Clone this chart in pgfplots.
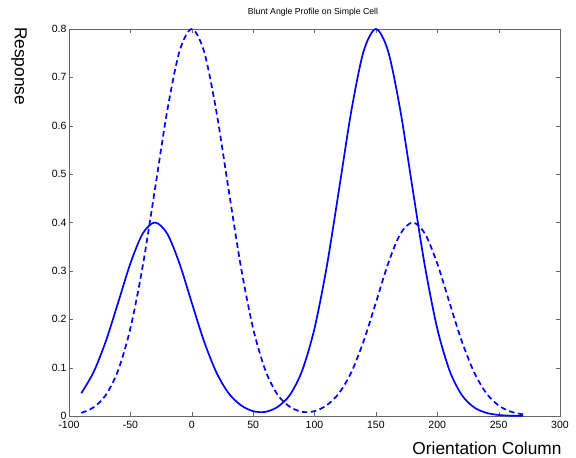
\documentclass[border=0pt]{standalone}
\usepackage{fontspec}
\setmainfont{Liberation Sans}
\usepackage{pgfplots}
\pgfplotsset{compat=1.18}
\begin{document}
\begin{tikzpicture}[x=1pt,y=1pt]
\path[use as bounding box] (0,0) rectangle (576,458);
\begin{axis}[
  at={(69pt,42pt)}, anchor=south west,
  scale only axis, width=491pt, height=387pt,
  xmin=-100, xmax=300, ymin=0, ymax=0.8,
  xtick={-100,-50,...,300},
  ytick={0,0.1,...,0.8},
  yticklabels={0,0.1,0.2,0.3,0.4,0.5,0.6,0.7,0.8},
  /pgf/number format/assume math mode=true,
  tick label style={font=\fontsize{10.5}{12}\selectfont, text=black},
  xticklabel style={yshift=-2pt},
  yticklabel style={xshift=1pt},
  axis line style={gray!80!black},
  major tick style={gray!80!black},
  tick align=inside,
  major tick length=4pt,
  xtick pos=both, ytick pos=both,
  clip=false,
]
\addplot[blue, line width=1.7pt, smooth] coordinates {
(-90,0.0470) (-80,0.0905) (-70,0.1545) (-60,0.2342) (-50,0.3153) (-40,0.3769)
(-30,0.4000) (-20,0.3769) (-10,0.3153) (0,0.2342) (10,0.1545) (20,0.0905)
(30,0.0472) (40,0.0223) (50,0.0100) (60,0.0085) (70,0.0189) (80,0.0437)
(90,0.0941) (100,0.1810) (110,0.3090) (120,0.4685) (130,0.6306) (140,0.7538)
(150,0.8000) (160,0.7538) (170,0.6306) (180,0.4685) (190,0.3090) (200,0.1810)
(210,0.0941) (220,0.0434) (230,0.0178) (240,0.0065) (250,0.0021) (260,0.0006)
(270,0.0002)
};
\addplot[blue, line width=1.7pt, smooth, dash pattern=on 5.5pt off 3.5pt] coordinates {
(-90,0.0065) (-80,0.0178) (-70,0.0434) (-60,0.0941) (-50,0.1810) (-40,0.3090)
(-30,0.4685) (-20,0.6306) (-10,0.7538) (0,0.8000) (10,0.7538) (20,0.6306)
(30,0.4685) (40,0.3090) (50,0.1810) (60,0.0942) (70,0.0437) (80,0.0189)
(90,0.0085) (100,0.0100) (110,0.0223) (120,0.0472) (130,0.0905) (140,0.1545)
(150,0.2342) (160,0.3153) (170,0.3769) (180,0.4000) (190,0.3769) (200,0.3153)
(210,0.2342) (220,0.1545) (230,0.0905) (240,0.0470) (250,0.0217) (260,0.0089)
(270,0.0032)
};
\end{axis}
\node[font=\fontsize{8.7}{10}\selectfont] at (313,446) {Blunt Angle Profile on Simple Cell};
\node[font=\fontsize{17.3}{20}\selectfont, rotate=-90] at (19,392) {Response};
\node[font=\fontsize{17.3}{20}\selectfont] at (487,10) {Orientation Column};
\end{tikzpicture}
\end{document}
